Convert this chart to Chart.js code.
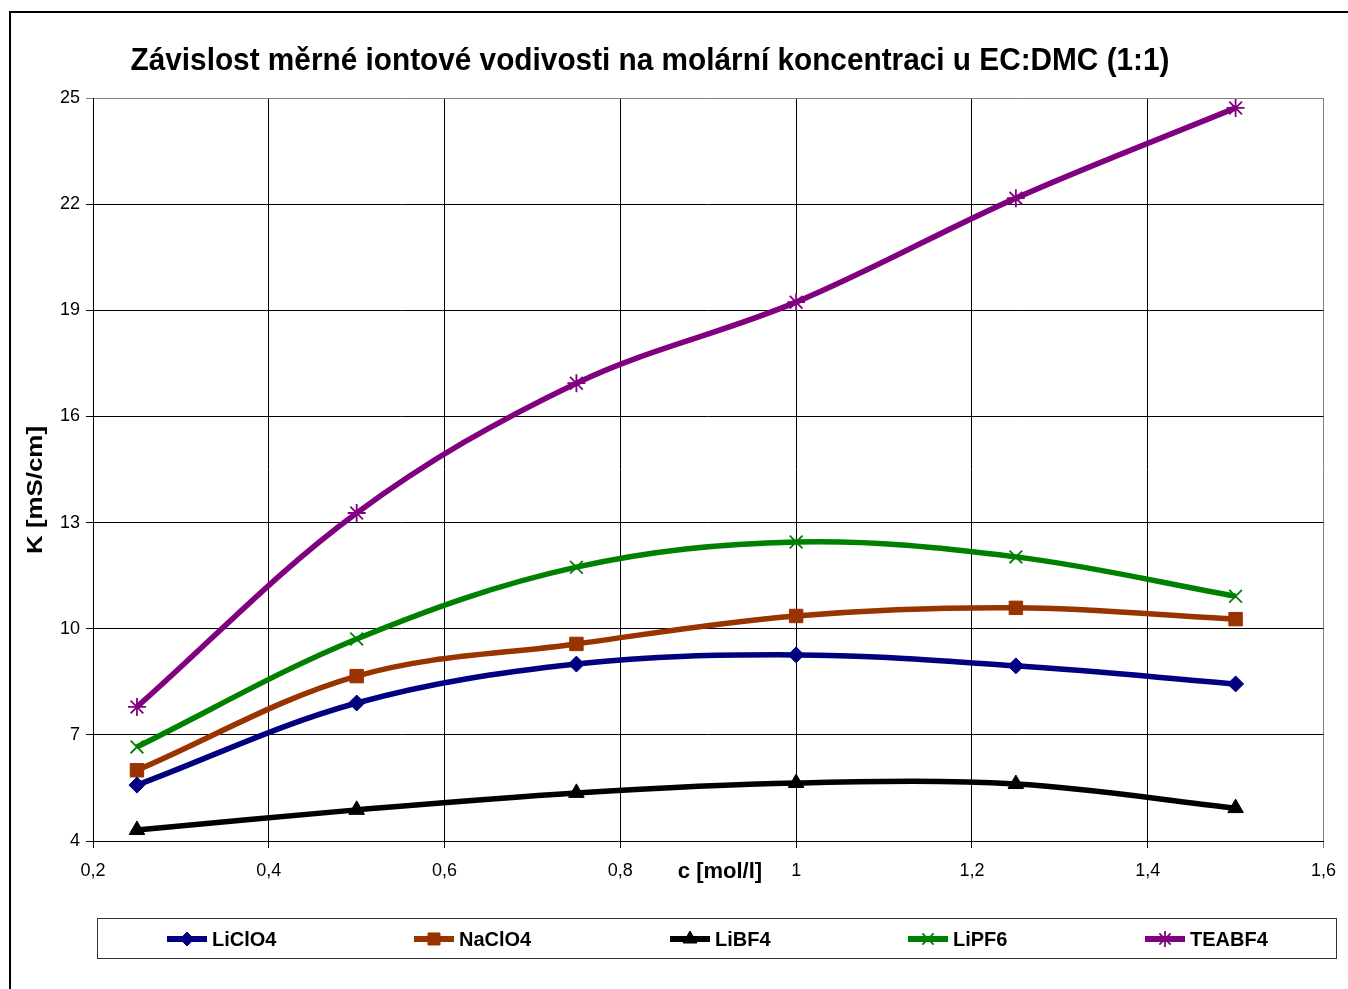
<!DOCTYPE html>
<html lang="cs">
<head>
  <meta charset="UTF-8" />
  <title>Závislost měrné iontové vodivosti</title>
  <script src="https://cdn.jsdelivr.net/npm/chart.js"></script>
  <style>
    html, body { margin: 0; padding: 0; background: #fff; }
    #wrap { width: 1348px; height: 989px; position: relative; overflow: hidden; }
  </style>
</head>
<body>
  <div id="wrap"><canvas id="chart" width="1348" height="989"></canvas></div>
  <script>
    // data
    const conc = [0.25, 0.5, 0.75, 1.0, 1.25, 1.5];
    const liclo4 = [5.58, 7.9, 9.0, 9.26, 8.95, 8.44];
    const naclo4 = [6.0, 8.66, 9.57, 10.36, 10.59, 10.27];
    const libf4 = [4.31, 4.88, 5.36, 5.64, 5.61, 4.93];
    const lipf6 = [6.66, 9.71, 11.74, 12.45, 12.03, 10.92];
    const teabf4 = [7.79, 13.27, 16.94, 19.23, 22.17, 24.72];
    const xTickLabels = ["0,2", "0,4", "0,6", "0,8", "1", "1,2", "1,4", "1,6"];
    const yTickLabels = ["4", "7", "10", "13", "16", "19", "22", "25"];

    const titleText = "Závislost měrné iontové vodivosti na molární koncentraci u EC:DMC (1:1)";
    const xTitle = "c [mol/l]";
    const yTitle = "K [mS/cm]";

    const pts = arr => arr.map((v, i) => ({ x: conc[i], y: v }));

    const series = [
      { label: "LiClO4", data: liclo4, color: "#000080", style: "rectRot", r: 8, bw: 1 },
      { label: "NaClO4", data: naclo4, color: "#993300", style: "rect", r: 9.5, bw: 1 },
      { label: "LiBF4", data: libf4, color: "#000000", style: "triangle", r: 9, bw: 1 },
      { label: "LiPF6", data: lipf6, color: "#008000", style: "crossRot", r: 9, bw: 1.8 },
      { label: "TEABF4", data: teabf4, color: "#800080", style: "star", r: 9, bw: 1.8 }
    ];
    const legendX = [167, 414, 670, 908, 1145];

    const font = "'Liberation Sans', Arial, sans-serif";

    // draw text squeezed/stretched to a given width
    function fitText(c, text, x, y, width) {
      const w = c.measureText(text).width;
      c.save();
      c.translate(x, y);
      c.scale(width / w, 1);
      c.fillText(text, 0, 0);
      c.restore();
    }

    const decor = {
      id: "decor",
      afterDraw(chart) {
        const c = chart.ctx;
        c.save();
        // outer frame
        c.strokeStyle = "#000";
        c.lineWidth = 2;
        c.strokeRect(10, 12, 1400, 1000);

        // title
        c.fillStyle = "#000";
        c.textAlign = "center";
        c.textBaseline = "middle";
        c.font = "bold 32px " + font;
        fitText(c, titleText, 650, 61, 1039);

        // x axis title
        c.font = "bold 22px " + font;
        c.fillText(xTitle, 720, 872);

        // y axis title
        c.save();
        c.translate(36, 490);
        c.rotate(-Math.PI / 2);
        c.font = "bold 22px " + font;
        fitText(c, yTitle, 0, 0, 128);
        c.restore();

        // legend box
        c.lineWidth = 1;
        c.strokeStyle = "#333";
        c.strokeRect(97.5, 918.5, 1239, 40);
        c.font = "bold 20px " + font;
        c.textAlign = "left";
        chart.data.datasets.forEach((ds, i) => {
          const x0 = legendX[i], y0 = 939;
          c.strokeStyle = ds.borderColor;
          c.lineWidth = 6;
          c.beginPath();
          c.moveTo(x0, y0);
          c.lineTo(x0 + 40, y0);
          c.stroke();
          c.fillStyle = ds.pointBackgroundColor;
          c.strokeStyle = ds.pointBorderColor;
          c.lineWidth = ds.pointBorderWidth;
          Chart.helpers.drawPoint(c, { pointStyle: ds.pointStyle, radius: ds.pointRadius - 1, borderWidth: ds.pointBorderWidth, rotation: 0 }, x0 + 20, y0);
          c.fillStyle = "#000";
          c.fillText(ds.label, x0 + 45, y0 + 1);
        });
        c.restore();
      }
    };

    new Chart(document.getElementById("chart"), {
      type: "line",
      data: {
        datasets: series.map(s => ({
          label: s.label,
          data: pts(s.data),
          borderColor: s.color,
          backgroundColor: s.color,
          borderWidth: 5.5,
          tension: 0.35,
          pointStyle: s.style,
          pointRadius: s.r,
          pointHoverRadius: s.r,
          pointBackgroundColor: s.color,
          pointBorderColor: s.color,
          pointBorderWidth: s.bw,
          fill: false,
          clip: false
        }))
      },
      options: {
        responsive: false,
        animation: false,
        events: [],
        layout: { padding: { left: 0, top: 98, right: 23, bottom: 0 } },
        plugins: { legend: { display: false }, title: { display: false }, tooltip: { enabled: false } },
        scales: {
          x: {
            type: "linear",
            min: 0.2,
            max: 1.6,
            ticks: {
              stepSize: 0.2,
              padding: 12,
              color: "#000",
              font: { family: font, size: 18 },
              callback: (v, i) => xTickLabels[i]
            },
            grid: {
              color: ctx => (ctx.tick && Math.abs(ctx.tick.value - 1.6) < 1e-6 ? "#808080" : "#000"),
              lineWidth: 1,
              tickLength: 7,
              drawTicks: true
            },
            border: { display: true, color: "#000", width: 1 },
            afterFit: s => { s.height = 148; }
          },
          y: {
            min: 4,
            max: 25,
            ticks: {
              stepSize: 3,
              padding: 6,
              color: "#000",
              font: { family: font, size: 18 },
              callback: (v, i) => yTickLabels[i]
            },
            grid: {
              color: ctx => (ctx.tick && ctx.tick.value === 25 ? "#808080" : "#000"),
              lineWidth: 1,
              tickLength: 7,
              drawTicks: true
            },
            border: { display: true, color: "#000", width: 1 },
            afterFit: s => { s.width = 93; }
          }
        }
      },
      plugins: [decor]
    });
  </script>
</body>
</html>
